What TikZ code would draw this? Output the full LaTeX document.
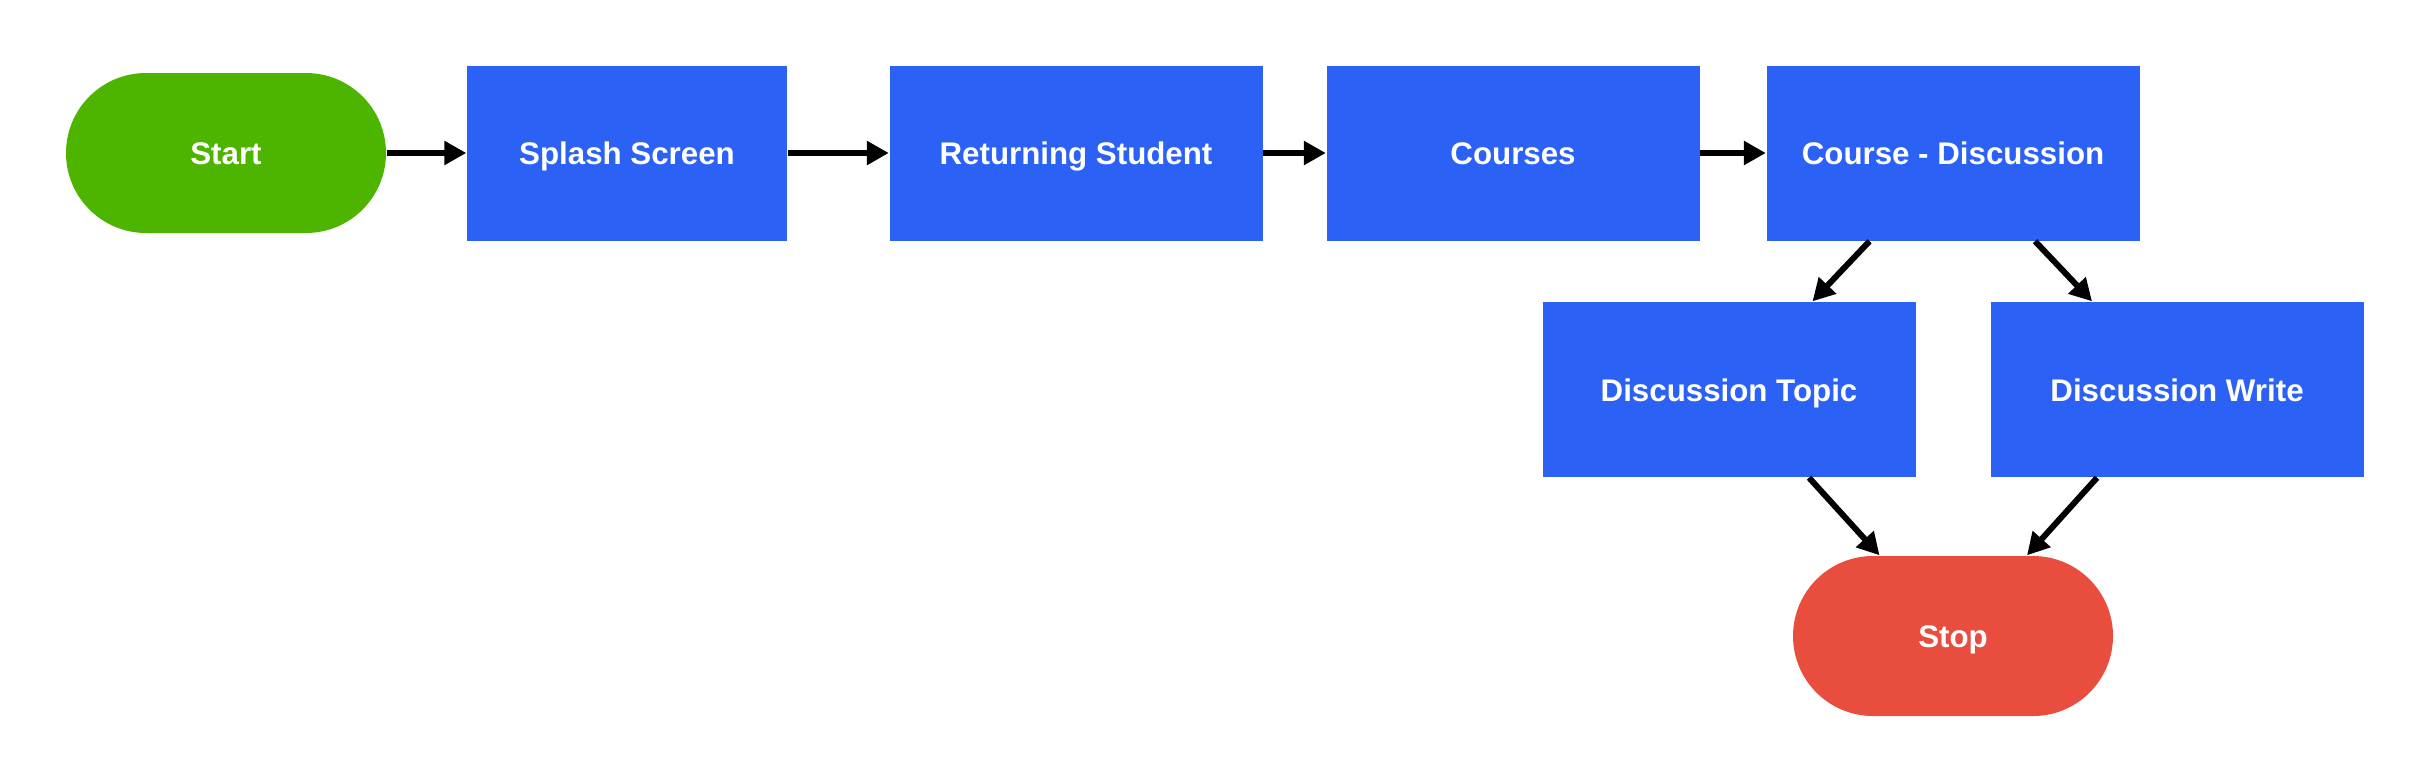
\documentclass[tikz,border=0pt]{standalone}
\usepackage{fontspec}
\setmainfont{Liberation Sans}
\usetikzlibrary{arrows.meta}

\definecolor{startgreen}{RGB}{77,181,0}
\definecolor{screenblue}{RGB}{44,97,245}
\definecolor{stopred}{RGB}{232,77,62}

\tikzset{every node/.style={inner sep=0pt, text=white, text height=0.86em, text depth=0.2em, font=\fontsize{8.9pt}{11pt}\selectfont\bfseries}}
\tikzset{screen/.style={rectangle, fill=screenblue, minimum width=3.73cm, minimum height=1.75cm}}
\tikzset{terminal/.style={rectangle, rounded corners=0.8cm, minimum width=3.2cm, minimum height=1.6cm}}
\tikzset{flow/.style={line width=1.7pt, -{Triangle[length=0.22cm,width=0.23cm]}}}

\begin{document}
\begin{tikzpicture}
		\useasboundingbox (0,0) rectangle (24.29,-7.82);
		% Draw the nodes
		\node[terminal, fill=startgreen] (start) at (2.26,-1.53) {Start};
		\node[screen, minimum width=3.2cm] (splash) at (6.27,-1.53) {Splash Screen};
		\node[screen] (returning) at (10.76,-1.53) {Returning Student};
		\node[screen] (courses) at (15.13,-1.53) {Courses};
		\node[screen] (coursedisc) at (19.53,-1.53) {Course - Discussion};
		
		\node[screen] (disctopic) at (17.29,-3.895) {Discussion Topic};
		\node[screen] (discwrite) at (21.77,-3.895) {Discussion Write};
		
		\node[terminal, fill=stopred] (stop) at (19.53,-6.36) {Stop};
		
		% Draw the edges
		\draw[flow] (start) -- (splash);
		\draw[flow] (splash) -- (returning);
		\draw[flow] (returning) -- (courses);
		\draw[flow] (courses) -- (coursedisc);
		
		\draw[flow] ([xshift=-0.835cm]coursedisc.south) -- ([xshift=0.835cm]disctopic.north);
		\draw[flow] ([xshift=0.82cm]coursedisc.south) -- ([xshift=-0.85cm]discwrite.north);
		
		\draw[flow] ([xshift=0.8cm]disctopic.south) -- ([xshift=-0.735cm]stop.north);
		\draw[flow] ([xshift=-0.8cm]discwrite.south) -- ([xshift=0.74cm]stop.north);
		
	\end{tikzpicture}
\end{document}
